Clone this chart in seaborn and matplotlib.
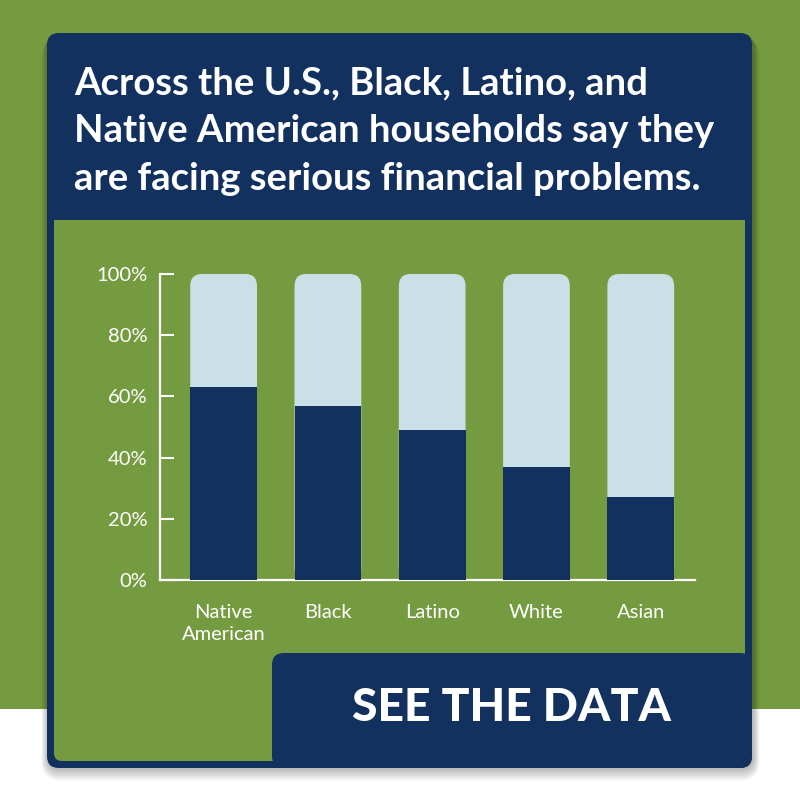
import matplotlib
matplotlib.use("Agg")
import matplotlib.pyplot as plt
from matplotlib.patches import FancyBboxPatch, Rectangle
import seaborn as sns
import pandas as pd

# ---- data ----
groups = ["Native\nAmerican", "Black", "Latino", "White", "Asian"]
facing_problems = [63, 57, 49, 37, 27]
totals = [100, 100, 100, 100, 100]
y_ticks = [0, 20, 40, 60, 80, 100]
y_tick_labels = ["0%", "20%", "40%", "60%", "80%", "100%"]
title_lines = ["Across the U.S., Black, Latino, and",
               "Native American households say they",
               "are facing serious financial problems."]
button_text = "SEE THE DATA"

GREEN = "#759b41"
NAVY = "#13315f"
LIGHT = "#c9e1e6"

sns.set_theme(style="white")
plt.rcParams['font.family'] = ['Lato', 'DejaVu Sans']

W = H = 800
fig = plt.figure(figsize=(8, 8), dpi=100, facecolor="white")

def R(x0, y0, x1, y1):
    """pixel box (top-origin) -> figure fraction (x, y, w, h)"""
    return x0 / W, (H - y1) / H, (x1 - x0) / W, (y1 - y0) / H

def add_rect(box, color, radius=0, z=0, alpha=1.0):
    x, y, w, h = R(*box)
    if radius > 0:
        p = FancyBboxPatch((x, y), w, h, boxstyle=f"round,pad=0,rounding_size={radius / W}",
                           transform=fig.transFigure, facecolor=color, edgecolor="none",
                           zorder=z, alpha=alpha, mutation_aspect=1)
    else:
        p = Rectangle((x, y), w, h, transform=fig.transFigure, facecolor=color,
                      edgecolor="none", zorder=z, alpha=alpha)
    fig.patches.append(p)

# background green band
add_rect((0, 0, 800, 709), GREEN, z=0)
# shadow
for i in range(1, 9):
    add_rect((47 - i * 0.8 + 1, 33 + i * 0.6, 752 + i * 0.8 + 1, 768 + i * 1.6), "black",
             radius=12 + i, z=0.5, alpha=0.035)
# card
add_rect((47, 33, 752, 768), NAVY, radius=12, z=1)
# inner green panel
add_rect((54, 220, 745, 761), GREEN, radius=8, z=2)
add_rect((54, 220, 745, 300), GREEN, z=2)
# button
add_rect((272, 653, 752, 768), NAVY, radius=12, z=3)

# title
for i, line in enumerate(title_lines):
    fig.text(74 / W, 1 - (94 + 48 * i) / H, line, color="white", fontsize=27.5,
             fontweight="bold", ha="left", va="baseline", zorder=5)

fig.text(512 / W, 1 - 708 / H, button_text, color="white", fontsize=33.3,
         fontweight="black", ha="center", va="center", zorder=5)

# chart axes
ax = fig.add_axes(R(160, 274, 695, 580))
ax.set_facecolor("none")
ax.set_zorder(4)

df = pd.DataFrame({"group": groups, "total": totals, "facing": facing_problems})
sns.barplot(data=df, x="group", y="total", color=LIGHT, width=0.64, saturation=1,
            linewidth=0, ax=ax, zorder=2)
sns.barplot(data=df, x="group", y="facing", color=NAVY, width=0.64, saturation=1,
            linewidth=0, ax=ax, zorder=3)

ax.set_xlim(-0.61, 4.52)
ax.set_ylim(0, 100)

# round the top of the light bars
x_per_px = (4.52 + 0.61) / (695 - 160)
y_per_px = 100 / (580 - 274)
aspect = y_per_px / x_per_px
r_px = 12
light_patches = ax.patches[:len(groups)]
for p in light_patches:
    x, y = p.get_x(), p.get_y()
    w, h = p.get_width(), p.get_height()
    p.set_visible(False)
    rp = FancyBboxPatch((x, y), w, h,
                        boxstyle=f"round,pad=0,rounding_size={r_px * x_per_px}",
                        mutation_aspect=aspect, facecolor=LIGHT, edgecolor="none",
                        zorder=2, clip_on=False)
    ax.add_patch(rp)
for p in ax.patches[len(groups):2 * len(groups)]:
    p.set_edgecolor("none")
    p.set_linewidth(0)

for s in ["top", "right"]:
    ax.spines[s].set_visible(False)
for s in ["left", "bottom"]:
    ax.spines[s].set_color("white")
    ax.spines[s].set_linewidth(1.6)

ax.set_yticks(y_ticks)
ax.set_yticklabels(y_tick_labels)
ax.tick_params(axis="y", direction="in", length=10, width=1.5, color="white",
               labelcolor="white", labelsize=14.5, pad=9, left=True)
ax.tick_params(axis="x", length=0, labelcolor="white", labelsize=14.5, pad=17)
for lbl in ax.get_xticklabels():
    lbl.set_linespacing(1.4)
ax.set_xlabel("")
ax.set_ylabel("")

fig.savefig("out.png", dpi=100, facecolor="white")
